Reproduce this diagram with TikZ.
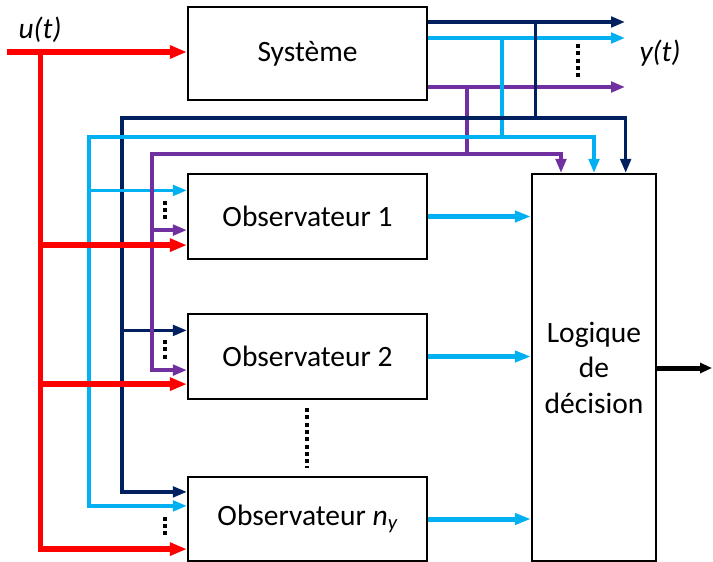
\documentclass[tikz,border=0pt]{standalone}
\usepackage{fontspec}
\setmainfont{Carlito}
\usetikzlibrary{arrows.meta,calc}

\definecolor{sigred}{HTML}{FF0000}
\definecolor{signavy}{HTML}{002060}
\definecolor{sigblue}{HTML}{00B0F0}
\definecolor{sigpurple}{HTML}{7030A0}

\tikzset{
  block/.style={draw=black, line width=2.2pt, fill=white, inner sep=0pt,
    font=\fontsize{29.5}{35.5}\selectfont, align=center},
  thintip/.tip={Triangle[length=14pt,width=10.5pt]},
  thinsig/.style={line width=3.3pt, line join=miter, arrows={-thintip}},
  navysig/.style={thinsig, draw=signavy, color=signavy},
  bluesig/.style={thinsig, draw=sigblue, color=sigblue},
  purplesig/.style={thinsig, draw=sigpurple, color=sigpurple},
  redsig/.style={line width=5.5pt, draw=sigred, color=sigred, line join=miter,
    arrows={-Triangle[length=17pt,width=12.5pt]}},
  residual/.style={line width=5pt, draw=sigblue, color=sigblue,
    arrows={-Triangle[length=16pt,width=11pt]}},
  decision/.style={line width=5pt, draw=black,
    arrows={-Triangle[length=12pt,width=10pt]}},
  dotcol/.style={line width=4pt, draw=black, dash pattern=on 4pt off 3.3pt},
  lbl/.style={font=\fontsize{29.5}{35}\selectfont\itshape, inner sep=0pt}
}

\begin{document}
\begin{tikzpicture}[x=1pt, y=-1pt]
\useasboundingbox (0,0) rectangle (713,562);

% blocks
\node[block, minimum width=239pt, minimum height=93pt]  (sys)   at (307.5,53.5) {Système};
\node[block, minimum width=239pt, minimum height=85pt]  (obs1)  at (307.5,216.5) {Observateur 1};
\node[block, minimum width=239pt, minimum height=85pt]  (obs2)  at (307.5,356.5) {Observateur 2};
\node[block, minimum width=239pt, minimum height=84pt]  (obsn)  at (307.5,519) {Observateur {\itshape n\textsubscript{y}}};
\node[block, minimum width=124pt, minimum height=387pt] (logic) at (594,367.5) {Logique\\de\\décision};

% labels
\node[lbl] (ulab) at (40,30) {u(t)};
\node[lbl] (ylab) at (660,53) {y(t)};

% input points on the observers
\coordinate (b1) at ([yshift=-17.5pt]obs1.north west);
\coordinate (p1) at ([yshift=30pt]obs1.south west);
\coordinate (r1) at ([yshift=15pt]obs1.south west);
\coordinate (n2) at ([yshift=-17.5pt]obs2.north west);
\coordinate (p2) at ([yshift=30pt]obs2.south west);
\coordinate (r2) at ([yshift=16pt]obs2.south west);
\coordinate (n3) at ([yshift=-16pt]obsn.north west);
\coordinate (b3) at ([yshift=-30pt]obsn.north west);
\coordinate (r3) at ([yshift=13pt]obsn.south west);

% distribution corners
\coordinate (uin) at (7,52);
\coordinate (rj)  at (40.7,52);
\coordinate (bj)  at (89,137);
\coordinate (nj)  at (122,118);
\coordinate (pj)  at (152,154);

% system outputs and their taps
\coordinate (nout) at (625,22);
\coordinate (bout) at (625,38);
\coordinate (pout) at (625,87);
\coordinate (ntap) at (535.7,22);
\coordinate (btap) at (502,38);
\coordinate (ptap) at (467,87);

% inputs of the decision logic
\coordinate (nl) at ([xshift=31.7pt]logic.north);
\coordinate (bl) at (logic.north);
\coordinate (pl) at ([xshift=-33pt]logic.north);
\coordinate (dout) at (712,368);

% system outputs y(t)
\draw[navysig]   (nout -| sys.east) -- (nout);
\draw[bluesig]   (bout -| sys.east) -- (bout);
\draw[purplesig] (pout -| sys.east) -- (pout);
\draw[navysig, -]   (ntap) -- (ntap |- nj);
\draw[bluesig, -]   (btap) -- (btap |- bj);
\draw[purplesig, -] (ptap) -- (ptap |- pj);

% buses to the observers and to the decision logic
\draw[navysig, thintip-thintip]   (n3) -| (nj) -| (nl);
\draw[navysig] (nj |- n2) -- (n2);
\draw[bluesig, thintip-thintip]   (b3) -| (bj) -| (bl);
\draw[bluesig] (bj |- b1) -- (b1);
\draw[purplesig, thintip-thintip] (p2) -| (pj) -| (pl);
\draw[purplesig] (pj |- p1) -- (p1);

% input u(t)
\draw[redsig] (uin) -- (uin -| sys.west);
\draw[redsig] (rj) |- (r3);
\draw[redsig] (rj |- r1) -- (r1);
\draw[redsig] (rj |- r2) -- (r2);

% residuals and decision
\draw[residual] (obs1.east) -- (obs1.east -| logic.west);
\draw[residual] (obs2.east) -- (obs2.east -| logic.west);
\draw[residual] (obsn.east) -- (obsn.east -| logic.west);
\draw[decision] (logic.east |- dout) -- (dout);

% ellipsis marks
\coordinate (d1a) at (165,200.7);  \coordinate (d1b) at (165,222);
\coordinate (d2a) at (165,340);    \coordinate (d2b) at (165,361);
\coordinate (d3a) at (165,516.7);  \coordinate (d3b) at (165,538);
\coordinate (dma) at (306.7,408);  \coordinate (dmb) at (306.7,468);
\coordinate (dya) at (578,44);     \coordinate (dyb) at (578,80);
\draw[dotcol] (d1a) -- (d1b);
\draw[dotcol] (d2a) -- (d2b);
\draw[dotcol] (d3a) -- (d3b);
\draw[dotcol] (dma) -- (dmb);
\draw[dotcol] (dya) -- (dyb);
\end{tikzpicture}
\end{document}
